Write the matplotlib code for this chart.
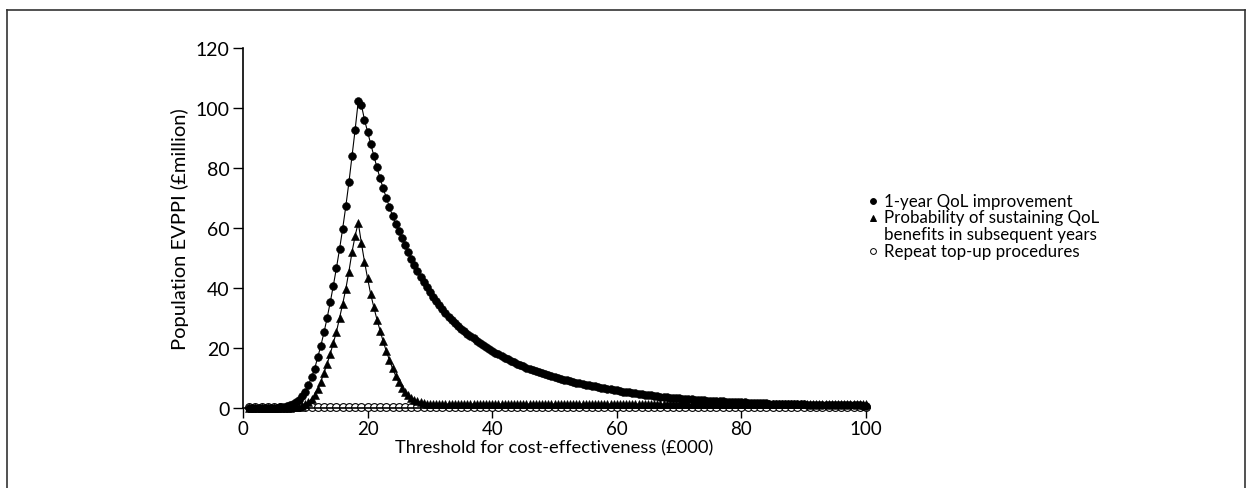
import numpy as np
import matplotlib
matplotlib.use("Agg")
import matplotlib.pyplot as plt
from matplotlib.lines import Line2D

# Threshold grid (£000) for the two main EVPPI curves and the coarser grid for top-ups
threshold = np.arange(1, 100.5, 0.5)
threshold_topup = np.arange(1, 101, 1)

# Population EVPPI (£million): 1-year QoL improvement
qol_1yr = [
    0.0, 0.0, 0.0, 0.0, 0.0, 0.0, 0.05, 0.1, 0.1, 0.15,
    0.25, 0.4, 0.6, 0.9, 1.3, 1.9, 2.7, 3.9, 5.4, 7.6,
    10.2, 13.1, 16.9, 20.8, 25.2, 30.0, 35.2, 40.8, 46.7, 53.0,
    59.8, 67.2, 75.2, 84.0, 92.8, 102.3, 101.0, 96.1, 92.0, 88.0,
    84.1, 80.2, 76.6, 73.2, 70.1, 67.0, 64.1, 61.4, 58.9, 56.6,
    54.3, 52.0, 49.8, 47.6, 45.6, 43.7, 41.9, 40.2, 38.6, 37.1,
    35.6, 34.2, 32.9, 31.7, 30.5, 29.4, 28.4, 27.4, 26.5, 25.6,
    24.8, 24.0, 23.3, 22.5, 21.8, 21.1, 20.4, 19.7, 19.1, 18.5,
    17.9, 17.3, 16.8, 16.3, 15.8, 15.3, 14.8, 14.3, 13.9, 13.5,
    13.1, 12.7, 12.3, 11.9, 11.6, 11.2, 10.9, 10.6, 10.3, 10.0,
    9.7, 9.45, 9.2, 8.95, 8.7, 8.45, 8.2, 8.0, 7.8, 7.6,
    7.4, 7.2, 7.0, 6.8, 6.6, 6.4, 6.2, 6.0, 5.85, 5.7,
    5.5, 5.35, 5.2, 5.05, 4.9, 4.75, 4.6, 4.45, 4.3, 4.2,
    4.05, 3.95, 3.8, 3.7, 3.6, 3.5, 3.4, 3.3, 3.2, 3.1,
    3.0, 2.95, 2.85, 2.8, 2.7, 2.65, 2.55, 2.5, 2.45, 2.4,
    2.3, 2.25, 2.2, 2.15, 2.1, 2.05, 2.0, 1.95, 1.9, 1.85,
    1.8, 1.75, 1.7, 1.7, 1.65, 1.6, 1.55, 1.5, 1.5, 1.45,
    1.4, 1.4, 1.35, 1.35, 1.3, 1.25, 1.25, 1.2, 1.2, 1.15,
    1.15, 1.1, 1.1, 1.05, 1.05, 1.0, 1.0, 1.0, 0.95, 0.95,
    0.95, 0.9, 0.9, 0.9, 0.85, 0.85, 0.85, 0.8, 0.8,
]

# Population EVPPI (£million): probability of sustaining QoL benefits
qol_sustain = [
    0.0, 0.0, 0.0, 0.0, 0.0, 0.0, 0.0, 0.0, 0.0, 0.0,
    0.05, 0.1, 0.1, 0.15, 0.2, 0.3, 0.5, 0.8, 1.3, 2.0,
    3.0, 4.3, 6.3, 8.8, 11.7, 14.7, 18.0, 21.7, 25.4, 30.0,
    34.7, 39.7, 45.5, 52.0, 57.4, 61.8, 55.0, 48.8, 43.2, 37.9,
    33.6, 29.5, 25.8, 22.2, 19.0, 16.0, 13.2, 10.8, 8.6, 6.8,
    5.4, 4.3, 3.4, 2.8, 2.3, 1.9, 1.7, 1.5, 1.35, 1.25,
    1.2, 1.2, 1.2, 1.2, 1.2, 1.2, 1.2, 1.2, 1.2, 1.2,
    1.2, 1.2, 1.2, 1.2, 1.2, 1.2, 1.2, 1.2, 1.2, 1.2,
    1.2, 1.2, 1.2, 1.2, 1.2, 1.2, 1.2, 1.2, 1.2, 1.2,
    1.2, 1.2, 1.2, 1.2, 1.2, 1.2, 1.2, 1.2, 1.2, 1.2,
    1.2, 1.2, 1.2, 1.2, 1.2, 1.2, 1.2, 1.2, 1.2, 1.2,
    1.2, 1.2, 1.2, 1.2, 1.2, 1.2, 1.2, 1.2, 1.2, 1.2,
    1.2, 1.2, 1.2, 1.2, 1.2, 1.2, 1.2, 1.2, 1.2, 1.2,
    1.2, 1.2, 1.2, 1.2, 1.2, 1.2, 1.2, 1.2, 1.2, 1.2,
    1.2, 1.2, 1.2, 1.2, 1.2, 1.2, 1.2, 1.2, 1.2, 1.2,
    1.2, 1.2, 1.2, 1.2, 1.2, 1.2, 1.2, 1.2, 1.2, 1.2,
    1.2, 1.2, 1.2, 1.2, 1.2, 1.2, 1.2, 1.2, 1.2, 1.2,
    1.2, 1.2, 1.2, 1.2, 1.2, 1.2, 1.2, 1.2, 1.2, 1.2,
    1.2, 1.2, 1.2, 1.2, 1.2, 1.2, 1.2, 1.2, 1.2, 1.2,
    1.2, 1.2, 1.2, 1.2, 1.2, 1.2, 1.2, 1.2, 1.2,
]

# Population EVPPI (£million): repeat top-up procedures
topup = [
    0.4, 0.4, 0.4, 0.4, 0.4, 0.4, 0.4, 0.4, 0.4, 0.4,
    0.4, 0.4, 0.4, 0.4, 0.4, 0.4, 0.4, 0.4, 0.4, 0.4,
    0.4, 0.4, 0.4, 0.4, 0.4, 0.4, 0.4, 0.4, 0.4, 0.4,
    0.4, 0.4, 0.4, 0.4, 0.4, 0.4, 0.4, 0.4, 0.4, 0.4,
    0.4, 0.4, 0.4, 0.4, 0.4, 0.4, 0.4, 0.4, 0.4, 0.4,
    0.4, 0.4, 0.4, 0.4, 0.4, 0.4, 0.4, 0.4, 0.4, 0.4,
    0.4, 0.4, 0.4, 0.4, 0.4, 0.4, 0.4, 0.4, 0.4, 0.4,
    0.4, 0.4, 0.4, 0.4, 0.4, 0.4, 0.4, 0.4, 0.4, 0.4,
    0.4, 0.4, 0.4, 0.4, 0.4, 0.4, 0.4, 0.4, 0.4, 0.4,
    0.4, 0.4, 0.4, 0.4, 0.4, 0.4, 0.4, 0.4, 0.4, 0.4,
]

plt.rcParams["font.family"] = ["Lato", "DejaVu Sans"]
plt.rcParams["font.size"] = 13.5

W, H = 1252, 489
fig = plt.figure(figsize=(W / 100, H / 100), dpi=100)
ax = fig.add_axes([243 / W, 1 - 409 / H, (866 - 243) / W, (409 - 49) / H])

ax.plot(threshold_topup, topup, color="black", lw=0.8, marker="o", ms=5.6,
        mfc="white", mec="black", mew=0.8, zorder=2, clip_on=False)
ax.plot(threshold, qol_sustain, color="black", lw=0.8, marker="^", ms=5.4,
        mfc="black", mec="black", mew=0.4, zorder=3, clip_on=False)
ax.plot(threshold, qol_1yr, color="black", lw=0.8, marker="o", ms=5.6,
        mfc="black", mec="black", mew=0.4, zorder=4, clip_on=False)

ax.set_xlim(0, 100)
ax.set_ylim(0, 120)
ax.set_xticks(range(0, 101, 20))
ax.set_yticks(range(0, 121, 20))
ax.spines[["top", "right"]].set_visible(False)
for s in ("left", "bottom"):
    ax.spines[s].set_linewidth(1.2)
ax.tick_params(direction="out", length=7.5, width=1.0, pad=2, labelsize=14)
ax.tick_params(axis="x", pad=1.5, labelsize=13.5)
ax.set_xlabel("Threshold for cost-effectiveness (£000)", fontsize=13.2, labelpad=1)
ax.set_ylabel("Population EVPPI (£million)", fontsize=14.5, labelpad=5)

# legend: markers and labels set row by row
rows = [202, 218.5, 235, 251.7]
mx, tx = 873 / W, 884 / W
legend_marks = [
    (rows[0], dict(marker="o", mfc="black")),
    (rows[1], dict(marker="^", mfc="black")),
    (rows[3], dict(marker="o", mfc="white")),
]
for ry, kw in legend_marks:
    fig.add_artist(Line2D([mx], [1 - ry / H], ls="none", ms=4.2, mec="black",
                          mew=0.7, transform=fig.transFigure, **kw))
legend_text = ["1-year QoL improvement", "Probability of sustaining QoL",
               "benefits in subsequent years", "Repeat top-up procedures"]
for ry, t in zip(rows, legend_text):
    fig.text(tx, 1 - ry / H, t, ha="left", va="center", fontsize=12.2)

# thin frame around the panel
fx0, fx1, fy1 = 7 / W, 1245 / W, 1 - 11 / H
for xs, ys in (([fx0, fx1], [fy1, fy1]), ([fx0, fx0], [0, fy1]), ([fx1, fx1], [0, fy1])):
    fig.add_artist(Line2D(xs, ys, color="#333333", lw=1.2, transform=fig.transFigure))

fig.savefig("out.png", dpi=100, facecolor="white")
